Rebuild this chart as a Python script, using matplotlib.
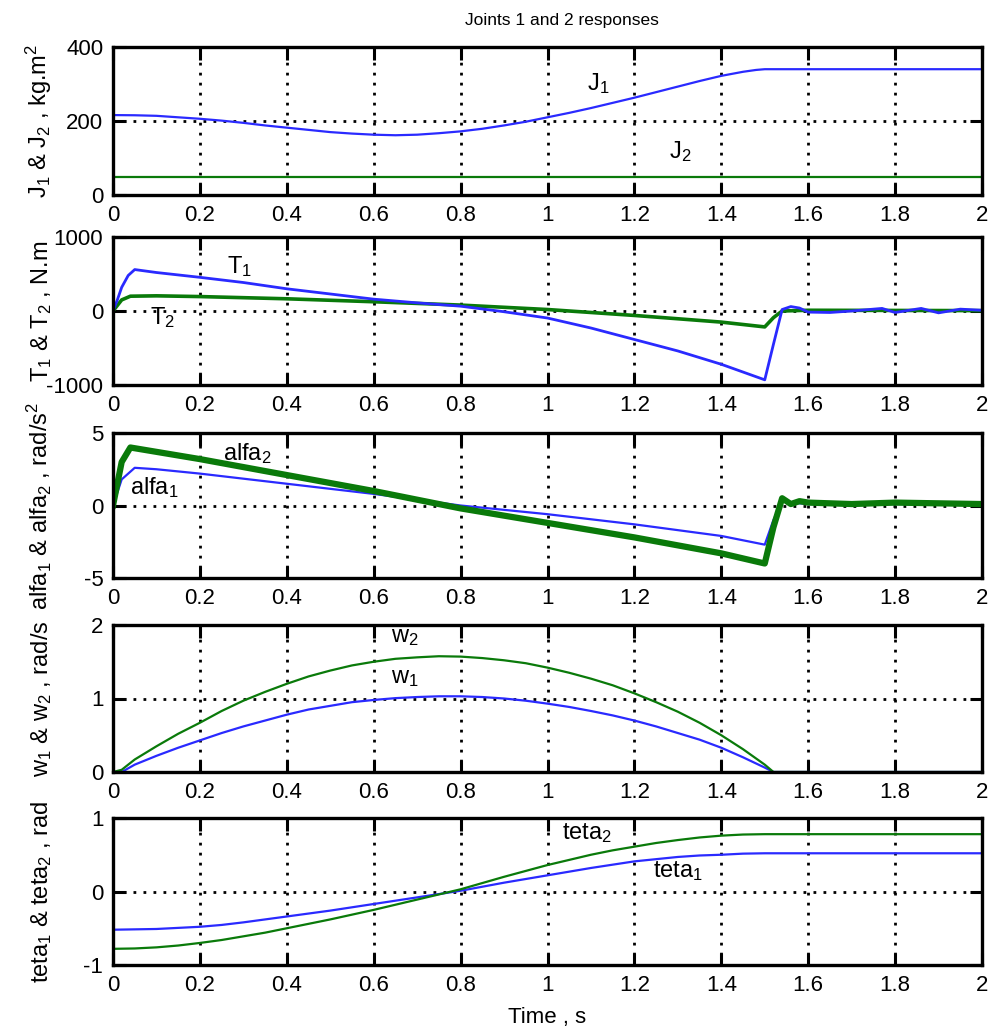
import matplotlib
matplotlib.use("Agg")
import matplotlib.pyplot as plt

FONT = ['Liberation Sans', 'DejaVu Sans']
plt.rcParams['font.family'] = FONT
plt.rcParams['mathtext.fontset'] = 'custom'
for k in ('rm', 'it', 'bf', 'sf'):
    plt.rcParams['mathtext.' + k] = FONT[0]
plt.rcParams['axes.unicode_minus'] = False

# ---------------- data ----------------
t_J = [0, 0.05, 0.1, 0.15, 0.2, 0.25, 0.3, 0.35, 0.4, 0.45, 0.5, 0.55, 0.6, 0.65, 0.7, 0.75, 0.8,
       0.85, 0.9, 0.95, 1.0, 1.05, 1.1, 1.15, 1.2, 1.25, 1.3, 1.35, 1.4, 1.45, 1.48, 1.5, 2.0]
J1 = [216, 215.5, 214, 210, 206, 201, 195, 188, 182, 176, 170, 166, 163, 161.5, 163, 167, 172,
      179, 188, 198, 210, 222, 235, 249, 263, 278, 293, 308, 322, 333, 338, 340, 340]
t_J2 = [0, 2.0]
J2 = [50, 50]

t_T1 = [0, 0.01, 0.02, 0.035, 0.05, 0.1, 0.2, 0.3, 0.4, 0.5, 0.6, 0.7, 0.8, 0.9, 1.0, 1.1, 1.2, 1.3, 1.4, 1.5,
        1.52, 1.54, 1.56, 1.58, 1.6, 1.65, 1.7, 1.77, 1.8, 1.86, 1.9, 1.95, 2.0]
T1 = [0, 150, 320, 480, 560, 520, 455, 385, 300, 230, 160, 110, 65, -10, -95, -230, -385, -540, -720, -930,
      -450, 20, 60, 40, -15, -20, 0, 35, -20, 35, -25, 25, 10]
t_T2 = [0, 0.02, 0.04, 0.1, 0.2, 0.4, 0.6, 0.8, 1.0, 1.2, 1.4, 1.5, 1.52, 1.54, 1.6, 2.0]
T2 = [0, 150, 200, 205, 195, 165, 125, 80, 20, -60, -150, -215, -90, 0, 10, 5]

t_a1 = [0, 0.02, 0.05, 0.1, 0.2, 0.4, 0.6, 0.8, 1.0, 1.2, 1.4, 1.5, 1.52, 1.54, 1.56, 1.6, 1.7, 2.0]
alfa1 = [0, 1.8, 2.6, 2.5, 2.2, 1.5, 0.8, 0.0, -0.6, -1.3, -2.1, -2.7, -1.0, 0.3, 0.2, 0.1, 0.1, 0.1]
t_a2 = [0, 0.02, 0.04, 0.1, 0.2, 0.4, 0.6, 0.8, 1.0, 1.2, 1.4, 1.5, 1.52, 1.54, 1.56, 1.58, 1.6, 1.7, 1.8, 2.0]
alfa2 = [0, 3.0, 4.0, 3.7, 3.2, 2.1, 1.0, -0.2, -1.2, -2.2, -3.3, -4.0, -1.5, 0.5, 0.1, 0.3, 0.2, 0.1, 0.2, 0.1]

t_w = [0, 0.02, 0.05, 0.1, 0.15, 0.2, 0.25, 0.3, 0.35, 0.4, 0.45, 0.5, 0.55, 0.6, 0.65, 0.7, 0.75, 0.8,
       0.85, 0.9, 0.95, 1.0, 1.05, 1.1, 1.15, 1.2, 1.25, 1.3, 1.35, 1.4, 1.45, 1.5, 1.52, 2.0]
w1 = [0, 0.0, 0.1, 0.22, 0.33, 0.43, 0.53, 0.62, 0.70, 0.78, 0.85, 0.9, 0.95, 0.98, 1.005, 1.02, 1.03, 1.03,
      1.02, 1.0, 0.97, 0.93, 0.885, 0.83, 0.77, 0.7, 0.62, 0.53, 0.44, 0.33, 0.2, 0.06, 0.0, 0.0]
w2 = [0, 0.03, 0.17, 0.35, 0.52, 0.67, 0.83, 0.97, 1.09, 1.2, 1.30, 1.38, 1.45, 1.5, 1.54, 1.56, 1.575, 1.57,
      1.55, 1.52, 1.48, 1.42, 1.35, 1.27, 1.18, 1.07, 0.95, 0.82, 0.67, 0.5, 0.31, 0.1, 0.0, 0.0]

t_q = [0, 0.05, 0.1, 0.15, 0.2, 0.25, 0.3, 0.35, 0.4, 0.45, 0.5, 0.55, 0.6, 0.65, 0.7, 0.75, 0.8,
       0.85, 0.9, 0.95, 1.0, 1.05, 1.1, 1.15, 1.2, 1.25, 1.3, 1.35, 1.4, 1.45, 1.5, 2.0]
teta1 = [-0.52, -0.515, -0.51, -0.495, -0.48, -0.455, -0.42, -0.38, -0.34, -0.30, -0.26, -0.215, -0.17,
         -0.125, -0.08, -0.035, 0.01, 0.065, 0.12, 0.17, 0.22, 0.27, 0.32, 0.365, 0.41, 0.44, 0.47,
         0.49, 0.50, 0.515, 0.52, 0.52]
teta2 = [-0.78, -0.775, -0.76, -0.735, -0.70, -0.66, -0.61, -0.56, -0.50, -0.44, -0.38, -0.315, -0.25,
         -0.18, -0.11, -0.04, 0.03, 0.115, 0.20, 0.28, 0.36, 0.43, 0.50, 0.56, 0.61, 0.66, 0.70,
         0.735, 0.76, 0.775, 0.78, 0.78]

x_ticks = [0, 0.2, 0.4, 0.6, 0.8, 1, 1.2, 1.4, 1.6, 1.8, 2]
x_ticklabels = ['0', '0.2', '0.4', '0.6', '0.8', '1', '1.2', '1.4', '1.6', '1.8', '2']

title = 'Joints 1 and 2 responses'
xlabel = 'Time , s'

BLUE = '#2a2aff'
GREEN = '#0a7a0a'

fig = plt.figure(figsize=(9.91, 10.30), dpi=100)

W, H = 991.0, 1030.0
left_px, right_px = 113, 982
panels_px = [(47, 195), (237, 385), (433, 578), (625, 772), (818, 965)]

axes = []
for top, bot in panels_px:
    ax = fig.add_axes([left_px / W, 1 - bot / H, (right_px - left_px) / W, (bot - top) / H])
    axes.append(ax)

ylims = [(0, 400), (-1000, 1000), (-5, 5), (0, 2), (-1, 1)]
yticks = [[0, 200, 400], [-1000, 0, 1000], [-5, 0, 5], [0, 1, 2], [-1, 0, 1]]
ylabels = ['J$_1$ & J$_2$ , kg.m$^2$', 'T$_1$ & T$_2$ , N.m',
           'alfa$_1$ & alfa$_2$ , rad/s$^2$', 'w$_1$ & w$_2$ , rad/s',
           'teta$_1$ & teta$_2$ , rad']

series = [
    [(t_J, J1, BLUE, 1.6), (t_J2, J2, GREEN, 1.6)],
    [(t_T2, T2, GREEN, 2.6), (t_T1, T1, BLUE, 2.0)],
    [(t_a1, alfa1, BLUE, 1.6), (t_a2, alfa2, GREEN, 4.5)],
    [(t_w, w1, BLUE, 1.6), (t_w, w2, GREEN, 1.6)],
    [(t_q, teta1, BLUE, 1.6), (t_q, teta2, GREEN, 1.6)],
]

annots = [
    [('J$_1$', 1.116, 300), ('J$_2$', 1.305, 118)],
    [('T$_1$', 0.292, 600), ('T$_2$', 0.115, -90)],
    [('alfa$_2$', 0.31, 3.55), ('alfa$_1$', 0.095, 1.25)],
    [('w$_2$', 0.672, 1.84), ('w$_1$', 0.672, 1.28)],
    [('teta$_2$', 1.09, 0.79), ('teta$_1$', 1.30, 0.28)],
]

grid_style = dict(color='black', linestyle=(0, (1, 2.6)), linewidth=2.0)

for i, ax in enumerate(axes):
    for tx, yv, c, lw in series[i]:
        ax.plot(tx, yv, color=c, linewidth=lw, solid_joinstyle='round')
    ax.set_xlim(0, 2)
    ax.set_ylim(*ylims[i])
    ax.set_xticks(x_ticks)
    ax.set_xticklabels(x_ticklabels)
    ax.set_yticks(yticks[i])
    ax.grid(True, **grid_style)
    ax.tick_params(direction='in', length=9, width=2.2, top=True, right=True,
                   labelsize=16, pad=7, colors='black')
    for sp in ax.spines.values():
        sp.set_linewidth(2.4)
    ax.set_ylabel(ylabels[i], fontsize=17)
    ax.yaxis.set_label_coords(-0.068, 0.5)
    for txt, xx, yy in annots[i]:
        ax.text(xx, yy, txt, fontsize=17, ha='center', va='center')

fig.text(562 / W, 1 - 20 / H, title, fontsize=12.5, ha='center', va='center')
axes[-1].set_xlabel(xlabel, fontsize=16, labelpad=8)

fig.savefig('out.png', dpi=100)
